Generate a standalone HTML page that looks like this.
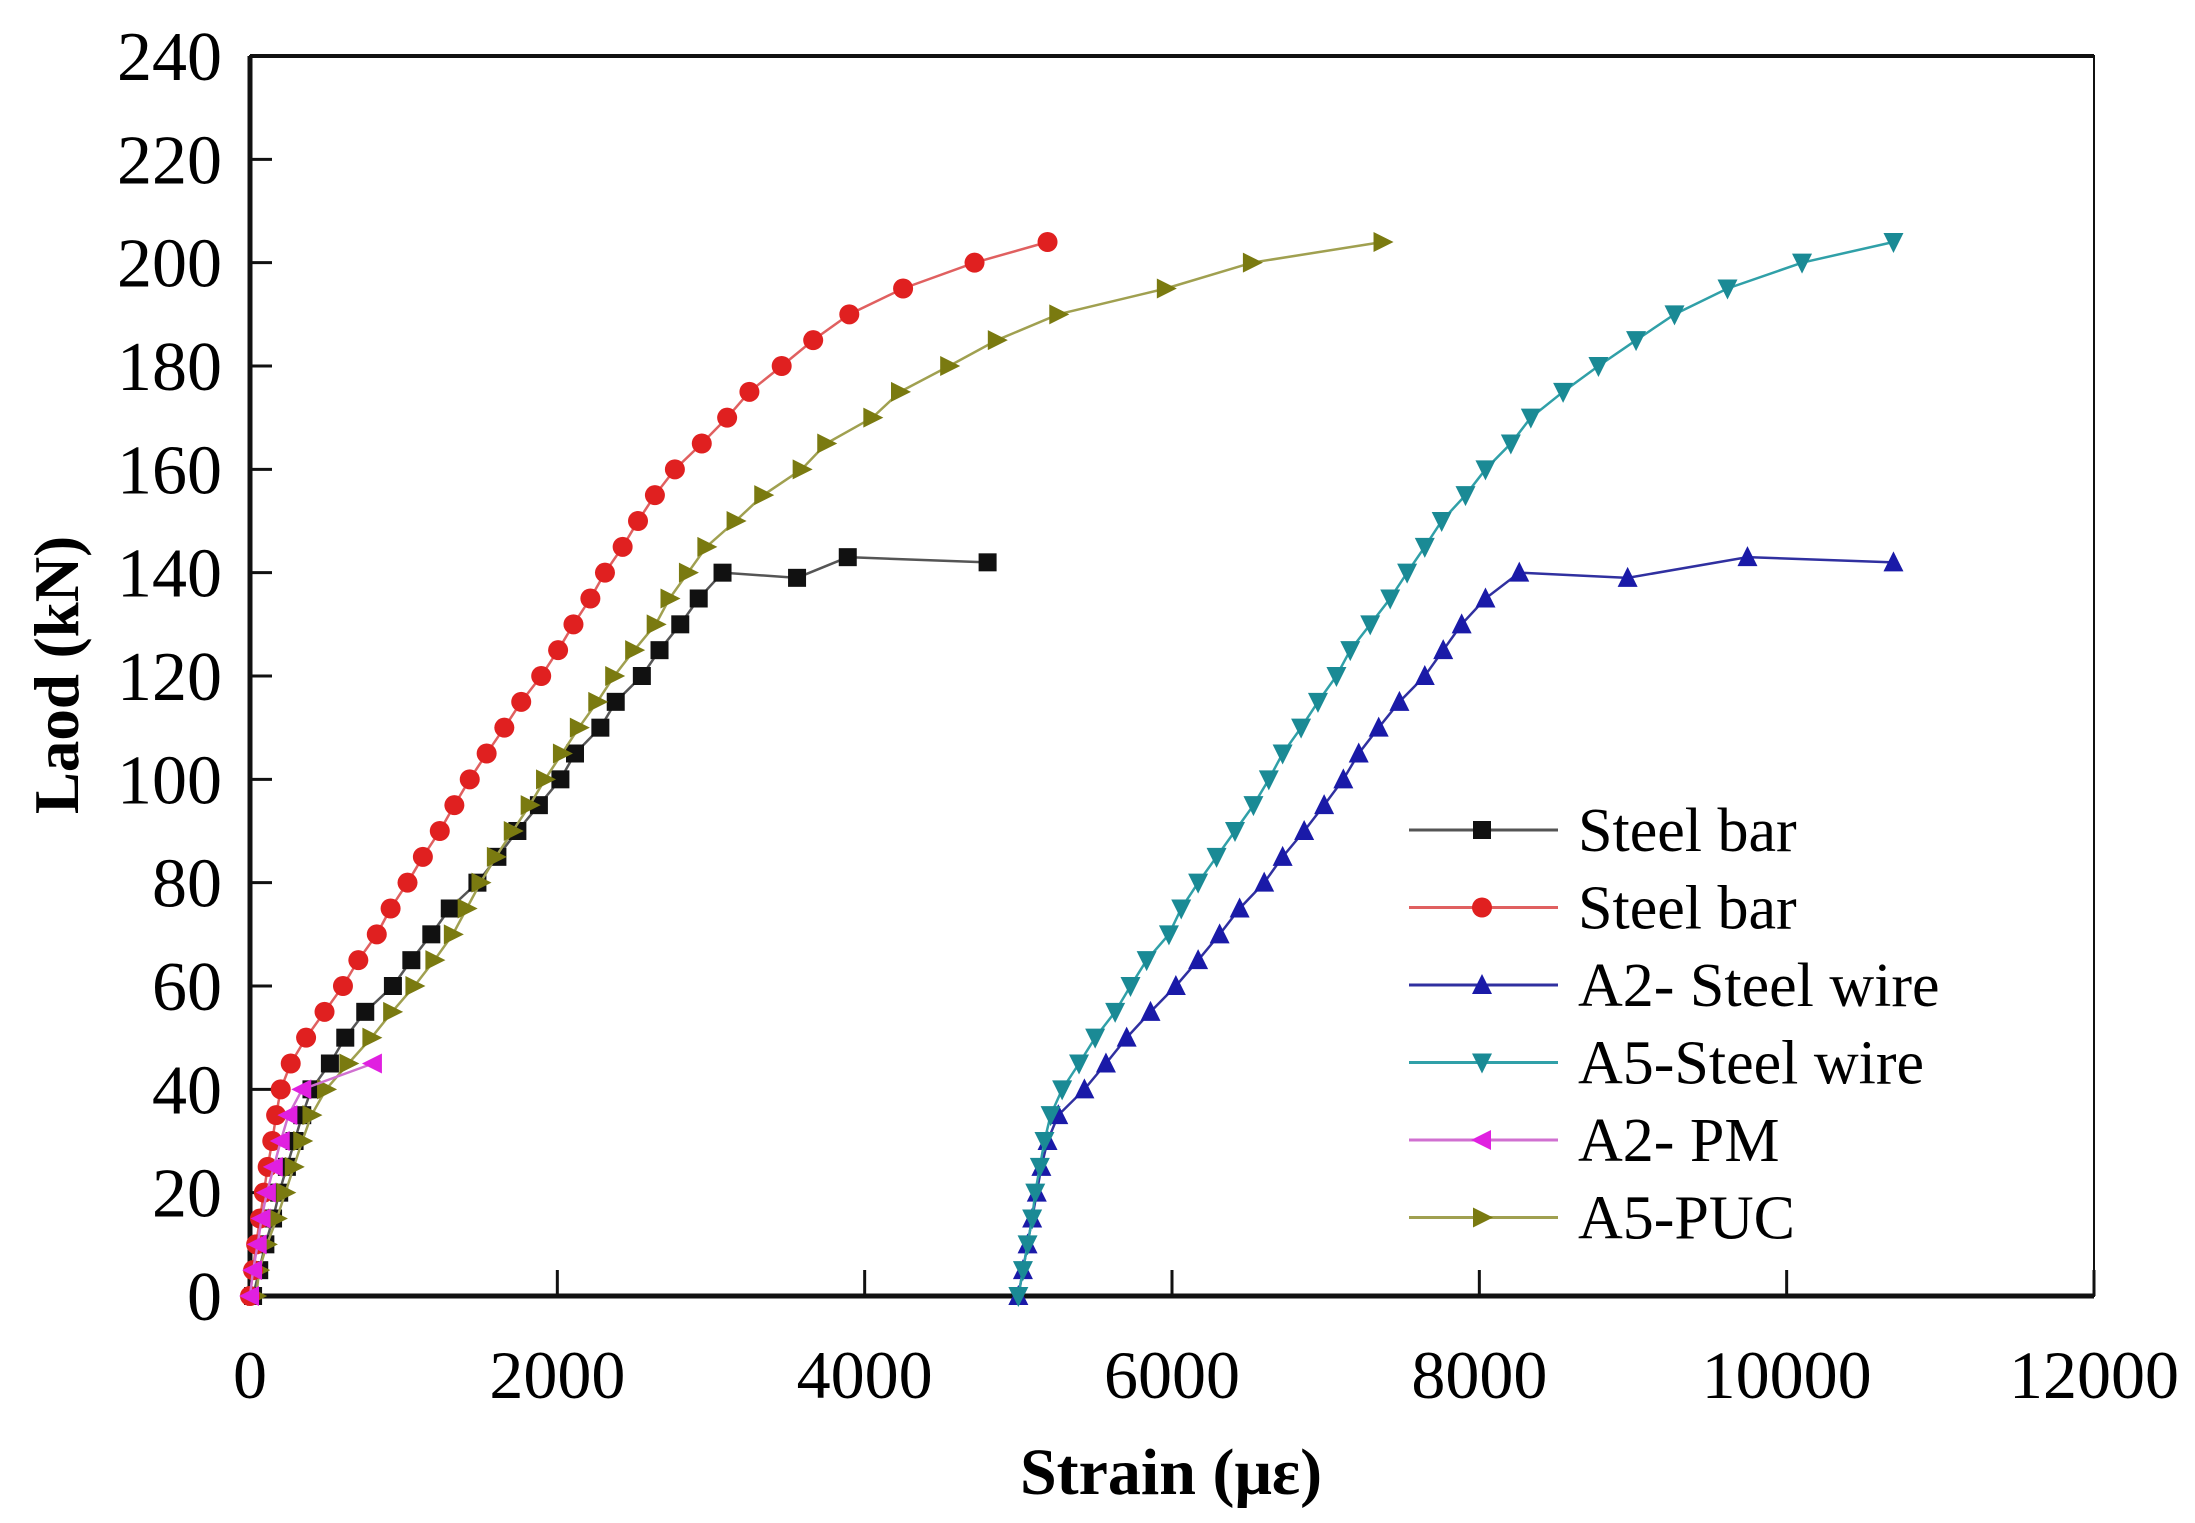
<!DOCTYPE html>
<html><head><meta charset="utf-8"><style>
html,body{margin:0;padding:0;background:#fff;}
svg{display:block;font-family:"Liberation Serif",serif;}
</style></head><body>
<svg id="chart" width="2195" height="1523" viewBox="0 0 2195 1523" xmlns="http://www.w3.org/2000/svg">
<rect width="2195" height="1523" fill="#fff"/>
<g id="plot"></g>
<text x="1171" y="1494" text-anchor="middle" font-size="66" font-weight="bold">Strain (με)</text>
<text transform="translate(78,675) rotate(-90)" text-anchor="middle" font-size="63" font-weight="bold">Laod (kN)</text>
</svg>
<script>
const xTicks=[0,2000,4000,6000,8000,10000,12000];
const yTicks=[0,20,40,60,80,100,120,140,160,180,200,220,240];
const seriesNames=["Steel bar","Steel bar","A2- Steel wire","A5-Steel wire","A2- PM","A5-PUC"];
const sbRedStrain=[0,20,40,65,90,115,145,170,200,265,365,485,605,705,825,915,1025,1125,1235,1330,1430,1540,1655,1765,1895,2005,2105,2215,2310,2425,2525,2635,2765,2940,3105,3250,3460,3665,3900,4250,4715,5190];
const sbRedLoad=[0,5,10,15,20,25,30,35,40,45,50,55,60,65,70,75,80,85,90,95,100,105,110,115,120,125,130,135,140,145,150,155,160,165,170,175,180,185,190,195,200,204];
const sbBlackStrain=[20,60,100,150,190,240,290,340,400,520,620,750,930,1050,1180,1300,1480,1610,1740,1880,2020,2115,2280,2380,2550,2665,2800,2920,3075,3560,3890,4800];
const sbBlackLoad=[0,5,10,15,20,25,30,35,40,45,50,55,60,65,70,75,80,85,90,95,100,105,110,115,120,125,130,135,140,139,143,142];
const a2wStrain=[5000,5030,5060,5090,5120,5150,5190,5260,5430,5570,5705,5860,6025,6170,6310,6440,6600,6720,6860,6990,7115,7215,7345,7480,7645,7765,7885,8040,8260,8965,9745,10695];
const a2wLoad=[0,5,10,15,20,25,30,35,40,45,50,55,60,65,70,75,80,85,90,95,100,105,110,115,120,125,130,135,140,139,143,142];
const a5wStrain=[5000,5030,5060,5090,5110,5140,5170,5210,5285,5395,5500,5630,5730,5835,5980,6060,6170,6290,6410,6530,6630,6720,6840,6950,7070,7160,7290,7420,7530,7645,7755,7910,8040,8205,8335,8545,8775,9020,9270,9615,10100,10695];
const a5wLoad=[0,5,10,15,20,25,30,35,40,45,50,55,60,65,70,75,80,85,90,95,100,105,110,115,120,125,130,135,140,145,150,155,160,165,170,175,180,185,190,195,200,204];
const pmStrain=[0,20,50,75,110,155,200,250,340,800];
const pmLoad=[0,5,10,15,20,25,30,35,40,45];
const pucStrain=[40,60,110,175,230,285,340,400,495,640,790,925,1070,1200,1320,1410,1500,1600,1710,1820,1920,2030,2140,2260,2370,2500,2640,2730,2850,2970,3160,3340,3590,3750,4050,4230,4550,4860,5260,5960,6520,7370];
const pucLoad=[0,5,10,15,20,25,30,35,40,45,50,55,60,65,70,75,80,85,90,95,100,105,110,115,120,125,130,135,140,145,150,155,160,165,170,175,180,185,190,195,200,204];

const NS="http://www.w3.org/2000/svg";
const L=250,R=2094,T=56,B=1296;
const sx=v=>L+(v-0)/12000*(R-L);
const sy=v=>B-(v-0)/240*(B-T);
const plot=document.getElementById('plot');
function mk(tag,attrs,parent){const e=document.createElementNS(NS,tag);for(const k in attrs)e.setAttribute(k,attrs[k]);(parent||plot).appendChild(e);return e;}

let fr=mk('rect',{x:L,y:T,width:R-L,height:B-T,fill:'none',stroke:'#111','stroke-width':2});


let xa=mk('line',{x1:L,y1:B,x2:R,y2:B,stroke:'#111','stroke-width':5});


let ya=mk('line',{x1:L,y1:T,x2:L,y2:B,stroke:'#111','stroke-width':5});


let ta=mk('line',{x1:L,y1:T,x2:R,y2:T,stroke:'#111','stroke-width':4});



xTicks.forEach(v=>{
  const t=mk('line',{x1:sx(v),y1:B,x2:sx(v),y2:B-26,stroke:'#111','stroke-width':3});
  
  
  const tx=mk('text',{x:sx(v),y:1398,'text-anchor':'middle','font-size':68});
  tx.textContent=v;
  
  
});
yTicks.forEach(v=>{
  if(v>0&&v<240){
    const t=mk('line',{x1:L,y1:sy(v),x2:L+22,y2:sy(v),stroke:'#111','stroke-width':3});
    
    
  }
  const tx=mk('text',{x:222,y:sy(v)+24,'text-anchor':'end','font-size':70});
  tx.textContent=v;
  
  
});

function marker(kind,x,y,color,parent){
  const s=9;let e;
  if(kind==='sq') e=mk('rect',{x:x-s,y:y-s,width:2*s,height:2*s,fill:color},parent);
  else if(kind==='ci') e=mk('circle',{cx:x,cy:y,r:s+1,fill:color},parent);
  else {
    let p;
    if(kind==='up') p=[[x,y-s-2],[x-s-1,y+s],[x+s+1,y+s]];
    if(kind==='dn') p=[[x,y+s+2],[x-s-1,y-s],[x+s+1,y-s]];
    if(kind==='lf') p=[[x-s-2,y],[x+s,y-s-1],[x+s,y+s+1]];
    if(kind==='rt') p=[[x+s+2,y],[x-s,y-s-1],[x-s,y+s+1]];
    e=mk('polygon',{points:p.map(q=>q.join(',')).join(' '),fill:color},parent);
  }
  return e;
}
const defs=[
 {name:'steel-bar-black',xs:sbBlackStrain,ys:sbBlackLoad,line:'#555',mc:'#111',m:'sq'},
 {name:'steel-bar-red',xs:sbRedStrain,ys:sbRedLoad,line:'#e06060',mc:'#e02020',m:'ci'},
 {name:'a2-steel-wire',xs:a2wStrain,ys:a2wLoad,line:'#3030a0',mc:'#1a1aa8',m:'up'},
 {name:'a5-steel-wire',xs:a5wStrain,ys:a5wLoad,line:'#30a0a8',mc:'#1a8a95',m:'dn'},
 {name:'a2-pm',xs:pmStrain,ys:pmLoad,line:'#d070d0',mc:'#e020e0',m:'lf'},
 {name:'a5-puc',xs:pucStrain,ys:pucLoad,line:'#a0a050',mc:'#7a7a10',m:'rt'}
];
const drawOrder=[0,5,1,4,2,3];
drawOrder.forEach(i=>{
  const d=defs[i];
  const g=mk('g',{});
  
  
  const pl=mk('polyline',{points:d.xs.map((x,j)=>sx(x)+','+sy(d.ys[j])).join(' '),fill:'none',stroke:d.line,'stroke-width':2.5},g);
  
  
  d.xs.forEach((x,j)=>{
    const m=marker(d.m,sx(x),sy(d.ys[j]),d.mc,g);
    
    
  });
});
const lg=mk('g',{});


defs.forEach((d,i)=>{
  const y=830+i*77.5;
  const ge=mk('g',{},lg);
  
  
  mk('line',{x1:1409,y1:y,x2:1558,y2:y,stroke:d.line,'stroke-width':3},ge);
  marker(d.m,1482,y,d.mc,ge);
  const t=mk('text',{x:1578,y:y+21,'font-size':62},ge);
  t.textContent=seriesNames[i];
  
  
});
</script>
</body></html>
